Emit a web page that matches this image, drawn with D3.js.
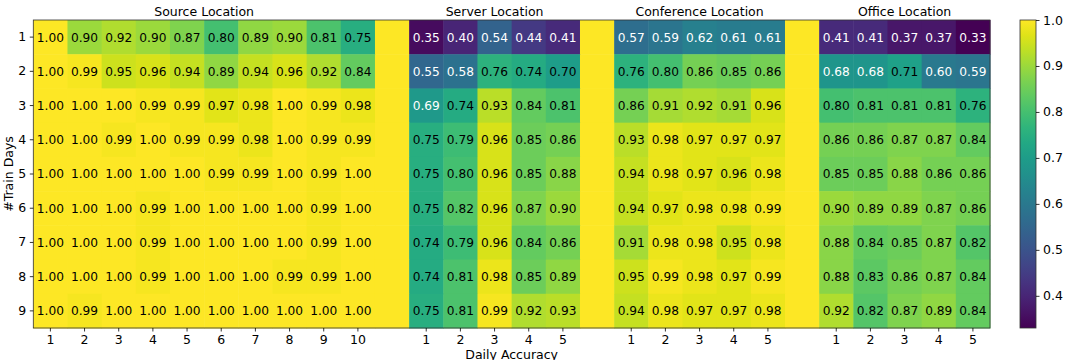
<!DOCTYPE html>
<html>
<head>
<meta charset="utf-8">
<script src="https://cdn.jsdelivr.net/npm/d3@7"></script>
<style>
  body { margin: 0; background: #fff; }
  svg { font-family: "DejaVu Sans", sans-serif; }
</style>
</head>
<body>
<div id="chart"></div>
<script>
// row labels (#train days) and column labels (daily accuracy)
const trainDays = [1, 2, 3, 4, 5, 6, 7, 8, 9];
const groups = ["Source Location", "Server Location", "Conference Location", "Office Location"];
const groupDays = [
  [1, 2, 3, 4, 5, 6, 7, 8, 9, 10],
  [1, 2, 3, 4, 5],
  [1, 2, 3, 4, 5],
  [1, 2, 3, 4, 5]
];

// values, one row per train-day count
const sourceVals = [
  [1.00, 0.90, 0.92, 0.90, 0.87, 0.80, 0.89, 0.90, 0.81, 0.75],
  [1.00, 0.99, 0.95, 0.96, 0.94, 0.89, 0.94, 0.96, 0.92, 0.84],
  [1.00, 1.00, 1.00, 0.99, 0.99, 0.97, 0.98, 1.00, 0.99, 0.98],
  [1.00, 1.00, 0.99, 1.00, 0.99, 0.99, 0.98, 1.00, 0.99, 0.99],
  [1.00, 1.00, 1.00, 1.00, 1.00, 0.99, 0.99, 1.00, 0.99, 1.00],
  [1.00, 1.00, 1.00, 0.99, 1.00, 1.00, 1.00, 1.00, 0.99, 1.00],
  [1.00, 1.00, 1.00, 0.99, 1.00, 1.00, 1.00, 1.00, 0.99, 1.00],
  [1.00, 1.00, 1.00, 0.99, 1.00, 1.00, 1.00, 0.99, 0.99, 1.00],
  [1.00, 0.99, 1.00, 1.00, 1.00, 1.00, 1.00, 1.00, 1.00, 1.00]
];
const serverVals = [
  [0.35, 0.40, 0.54, 0.44, 0.41],
  [0.55, 0.58, 0.76, 0.74, 0.70],
  [0.69, 0.74, 0.93, 0.84, 0.81],
  [0.75, 0.79, 0.96, 0.85, 0.86],
  [0.75, 0.80, 0.96, 0.85, 0.88],
  [0.75, 0.82, 0.96, 0.87, 0.90],
  [0.74, 0.79, 0.96, 0.84, 0.86],
  [0.74, 0.81, 0.98, 0.85, 0.89],
  [0.75, 0.81, 0.99, 0.92, 0.93]
];
const conferenceVals = [
  [0.57, 0.59, 0.62, 0.61, 0.61],
  [0.76, 0.80, 0.86, 0.85, 0.86],
  [0.86, 0.91, 0.92, 0.91, 0.96],
  [0.93, 0.98, 0.97, 0.97, 0.97],
  [0.94, 0.98, 0.97, 0.96, 0.98],
  [0.94, 0.97, 0.98, 0.98, 0.99],
  [0.91, 0.98, 0.98, 0.95, 0.98],
  [0.95, 0.99, 0.98, 0.97, 0.99],
  [0.94, 0.98, 0.97, 0.97, 0.98]
];
const officeVals = [
  [0.41, 0.41, 0.37, 0.37, 0.33],
  [0.68, 0.68, 0.71, 0.60, 0.59],
  [0.80, 0.81, 0.81, 0.81, 0.76],
  [0.86, 0.86, 0.87, 0.87, 0.84],
  [0.85, 0.85, 0.88, 0.86, 0.86],
  [0.90, 0.89, 0.89, 0.87, 0.86],
  [0.88, 0.84, 0.85, 0.87, 0.82],
  [0.88, 0.83, 0.86, 0.87, 0.84],
  [0.92, 0.82, 0.87, 0.89, 0.84]
];
const colorTicks = [0.4, 0.5, 0.6, 0.7, 0.8, 0.9, 1.0];

const groupVals = [sourceVals, serverVals, conferenceVals, officeVals];

// build column keys, with an empty (yellow) spacer column between groups
const columns = [];
groups.forEach((g, gi) => {
  if (gi > 0) columns.push({ key: "gap" + gi, gap: true });
  groupDays[gi].forEach((d, di) => columns.push({ key: g + "-" + d, group: gi, day: d, idx: di }));
});

const cells = [];
trainDays.forEach((t, ri) => {
  columns.forEach(c => {
    if (c.gap) cells.push({ row: t, col: c.key, gap: true, v: 1.0 });
    else cells.push({ row: t, col: c.key, v: groupVals[c.group][ri][c.idx] });
  });
});

const W = 1067, H = 360;
const mLeft = 33.3, mRight = 990, mTop = 20, mBottom = 328;

const svg = d3.select("#chart").append("svg")
  .attr("width", W)
  .attr("height", H);

const x = d3.scaleBand().domain(columns.map(c => c.key)).range([mLeft, mRight]);
const y = d3.scaleBand().domain(trainDays).range([mTop, mBottom]);
const vmin = d3.min(groupVals.flat(2)), vmax = 1.0;
const color = d3.scaleSequential(d3.interpolateViridis).domain([vmin, vmax]);

// cells
svg.append("g")
  .selectAll("rect")
  .data(cells)
  .join("rect")
  .attr("x", d => x(d.col))
  .attr("y", d => y(d.row))
  .attr("width", x.bandwidth() + 0.5)
  .attr("height", y.bandwidth() + 0.5)
  .attr("fill", d => color(d.v));

// annotations
svg.append("g")
  .selectAll("text")
  .data(cells.filter(d => !d.gap))
  .join("text")
  .attr("x", d => x(d.col) + x.bandwidth() / 2)
  .attr("y", d => y(d.row) + y.bandwidth() / 2)
  .attr("dy", "0.36em")
  .attr("text-anchor", "middle")
  .attr("font-size", "12.2px")
  .attr("fill", d => d.v < 0.695 ? "#fff" : "#000")
  .text(d => d.v.toFixed(2));

// frame
svg.append("rect")
  .attr("x", mLeft).attr("y", mTop)
  .attr("width", mRight - mLeft).attr("height", mBottom - mTop)
  .attr("fill", "none").attr("stroke", "#333").attr("stroke-width", 0.8);

// axes
const xAxis = d3.axisBottom(x)
  .tickValues(columns.filter(c => !c.gap).map(c => c.key))
  .tickFormat(k => columns.find(c => c.key === k).day)
  .tickSize(3.5).tickPadding(3.5);
const gx = svg.append("g").attr("transform", `translate(0,${mBottom})`).call(xAxis);

const yAxis = d3.axisLeft(y).tickSize(3.5).tickPadding(3.5);
const gy = svg.append("g").attr("transform", `translate(${mLeft},0)`).call(yAxis);

[gx, gy].forEach(g => {
  g.select(".domain").remove();
  g.selectAll("text").attr("font-size", "12.5px").attr("font-family", "DejaVu Sans").attr("fill", "#000");
  g.selectAll("line").attr("stroke", "#000").attr("stroke-width", 0.8);
});

// group titles
svg.append("g")
  .selectAll("text")
  .data(groups)
  .join("text")
  .attr("x", (g, gi) => {
    const keys = groupDays[gi].map(d => g + "-" + d);
    return (x(keys[0]) + x(keys[keys.length - 1]) + x.bandwidth()) / 2;
  })
  .attr("y", 16)
  .attr("text-anchor", "middle")
  .attr("font-size", "12.5px")
  .text(g => g);

// axis labels
svg.append("text")
  .attr("x", (mLeft + mRight) / 2)
  .attr("y", 358.5)
  .attr("text-anchor", "middle")
  .attr("font-size", "12.5px")
  .text("Daily Accuracy");

svg.append("text")
  .attr("transform", `translate(12.5,${(mTop + mBottom) / 2}) rotate(-90)`)
  .attr("text-anchor", "middle")
  .attr("font-size", "12.5px")
  .text("#Train Days");

// colorbar
const cbX = 1020, cbW = 16;
const cy = d3.scaleLinear().domain([vmin, vmax]).range([mBottom, mTop]);
const defs = svg.append("defs");
const grad = defs.append("linearGradient")
  .attr("id", "cbgrad").attr("x1", 0).attr("y1", 1).attr("x2", 0).attr("y2", 0);
d3.range(0, 1.0001, 0.05).forEach(t => {
  grad.append("stop").attr("offset", t).attr("stop-color", d3.interpolateViridis(t));
});
svg.append("rect")
  .attr("x", cbX).attr("y", mTop)
  .attr("width", cbW).attr("height", mBottom - mTop)
  .attr("fill", "url(#cbgrad)")
  .attr("stroke", "#333").attr("stroke-width", 0.8);

const gc = svg.append("g")
  .attr("transform", `translate(${cbX + cbW},0)`)
  .call(d3.axisRight(cy).tickValues(colorTicks).tickFormat(d3.format(".1f")).tickSize(3.5).tickPadding(3.5));
gc.select(".domain").remove();
gc.selectAll("text").attr("font-size", "12.5px").attr("font-family", "DejaVu Sans").attr("fill", "#000");
gc.selectAll("line").attr("stroke", "#000").attr("stroke-width", 0.8);
</script>
</body>
</html>
